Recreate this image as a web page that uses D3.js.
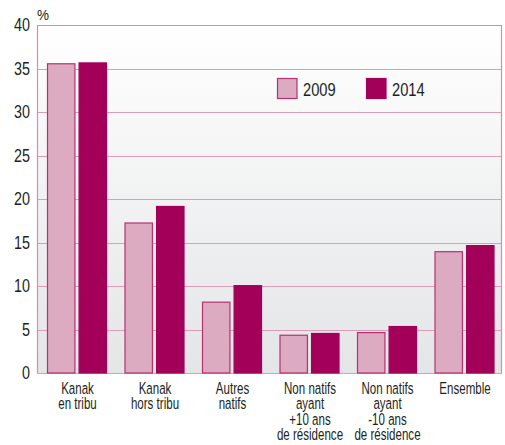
<!DOCTYPE html>
<html>
<head>
<meta charset="utf-8">
<script src="https://cdn.jsdelivr.net/npm/d3@7/dist/d3.min.js"></script>
<style>
  html, body { margin: 0; padding: 0; background: #ffffff; }
  svg { display: block; }
  text { font-family: "Liberation Sans", Arial, sans-serif; fill: #231f20; }
</style>
</head>
<body>
<svg id="chart" width="505" height="445"></svg>
<script>
// Share of the population, by group, in 2009 and 2014 (%)
const categories = [
  ["Kanak", "en tribu"],
  ["Kanak", "hors tribu"],
  ["Autres", "natifs"],
  ["Non natifs", "ayant", "+10 ans", "de résidence"],
  ["Non natifs", "ayant", "-10 ans", "de résidence"],
  ["Ensemble"]
];
const years = ["2009", "2014"];
const values2009 = [35.6, 17.3, 8.2, 4.4, 4.7, 14.0];
const values2014 = [35.7, 19.2, 10.1, 4.6, 5.4, 14.7];
const yTicks = [0, 5, 10, 15, 20, 25, 30, 35, 40];

const series = { "2009": values2009, "2014": values2014 };
const fills = { "2009": "#dcaac1", "2014": "#a3005a" };
const strokes = { "2009": "#b8306e", "2014": "#a3005a" };

const svg = d3.select("#chart");
const m = { left: 37, right: 3, top: 25, bottom: 72 };
const W = 505, H = 445;

const keys = categories.map((c, i) => "c" + i);
const x0 = d3.scaleBand().domain(keys).range([m.left, W - m.right]).padding(0);
const x1 = d3.scaleBand().domain(years).range([10, 70]).paddingInner(0.1);
const y = d3.scaleLinear().domain([0, 40]).range([H - m.bottom, m.top]);

// plot background gradient
const defs = svg.append("defs");
const grad = defs.append("linearGradient").attr("id", "bg").attr("x1", 0).attr("y1", 0).attr("x2", 0).attr("y2", 1);
grad.append("stop").attr("offset", "0%").attr("stop-color", "#ffffff");
grad.append("stop").attr("offset", "100%").attr("stop-color", "#e4e5e7");

svg.append("rect")
  .attr("x", m.left).attr("y", y(40))
  .attr("width", W - m.right - m.left).attr("height", y(0) - y(40))
  .attr("fill", "url(#bg)");

// gridlines
svg.append("g").selectAll("line").data(yTicks).join("line")
  .attr("x1", m.left).attr("x2", W - m.right)
  .attr("y1", d => Math.round(y(d)) + 0.5).attr("y2", d => Math.round(y(d)) + 0.5)
  .attr("stroke", "#dc9cba").attr("stroke-width", 1.2);

// frame
svg.append("path")
  .attr("d", `M${m.left + 0.5},${y(0)}V${Math.round(y(40)) + 0.5}H${W - m.right - 0.5}V${y(0)}`)
  .attr("fill", "none").attr("stroke", "#d88cb0").attr("stroke-width", 1.2);

// bars
const groups = svg.append("g").selectAll("g").data(keys).join("g")
  .attr("transform", k => `translate(${x0(k)},0)`);
groups.selectAll("rect").data((k, i) => years.map(yr => ({ yr, v: series[yr][i] }))).join("rect")
  .attr("x", d => x1(d.yr) + 0.5)
  .attr("y", d => y(d.v) + 0.5)
  .attr("width", x1.bandwidth() - 1)
  .attr("height", d => y(0) - y(d.v) - 0.5)
  .attr("fill", d => fills[d.yr])
  .attr("stroke", d => strokes[d.yr])
  .attr("stroke-width", 1.2);

// y axis labels (condensed)
const yAxis = d3.axisLeft(y).tickValues(yTicks).tickSize(0).tickPadding(7).tickFormat(d3.format("d"));
svg.append("g").attr("transform", `translate(${m.left},0)`).call(yAxis)
  .call(g => g.select(".domain").remove())
  .selectAll("text")
  .attr("x", 0)
  .attr("transform", "translate(-7,0) scale(0.82,1)")
  .style("font-family", '"Liberation Sans", Arial, sans-serif')
  .style("font-size", "17.5px").attr("fill", "#231f20");

svg.append("text").attr("transform", "translate(37,20) scale(0.9,1)")
  .style("font-size", "15px").text("%");

// category labels
const labels = svg.append("g").selectAll("text").data(categories).join("text")
  .attr("transform", (c, i) => `translate(${x0(keys[i]) + 40.5},${y(0) + 21}) scale(0.7,1)`)
  .attr("text-anchor", "middle")
  .style("font-size", "16.5px");
labels.selectAll("tspan").data(c => c).join("tspan")
  .attr("x", 0).attr("dy", (d, j) => j === 0 ? 0 : 15.5)
  .text(d => d);

// legend
const legend = svg.append("g").selectAll("g").data(years).join("g")
  .attr("transform", (d, i) => `translate(${277.5 + i * 89},78.5)`);
legend.append("rect").attr("width", 19.5).attr("height", 20)
  .attr("fill", d => fills[d]).attr("stroke", d => strokes[d]).attr("stroke-width", 1.2);
legend.append("text").attr("transform", "translate(25.5,17) scale(0.84,1)")
  .style("font-size", "17.5px").text(d => d);
</script>
</body>
</html>
